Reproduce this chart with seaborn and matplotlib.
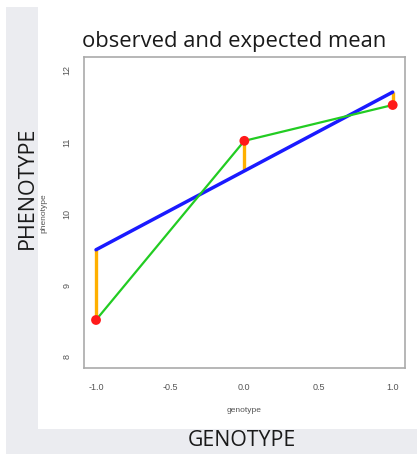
import matplotlib
matplotlib.use("Agg")
import matplotlib.pyplot as plt
import seaborn as sns
import pandas as pd
from matplotlib.patches import Rectangle

# Genotype coding and phenotype means
genotype = [-1.0, 0.0, 1.0]
observed = [8.5, 11.0, 11.5]
expected = [9.48, 10.58, 11.68]

x_ticks = [-1.0, -0.5, 0.0, 0.5, 1.0]
y_ticks = [8, 9, 10, 11, 12]

df = pd.DataFrame({"genotype": genotype, "observed": observed, "expected": expected})

sns.set_style("white")
plt.rcParams["font.family"] = ["Liberation Sans", "DejaVu Sans"]

fig = plt.figure(figsize=(4.17, 4.56), dpi=100)
fig.patch.set_facecolor("white")

# Slide-style backdrop: grey frame with a white panel
fig.patches.append(Rectangle((6 / 417, 1 / 456), 1 - 6 / 417, 447 / 456,
                             transform=fig.transFigure, facecolor="#ebecf0",
                             edgecolor="none", zorder=-10))
fig.patches.append(Rectangle((38 / 417, 26 / 456), 1 - 38 / 417, 422 / 456,
                             transform=fig.transFigure, facecolor="white",
                             edgecolor="none", zorder=-9))

ax = fig.add_axes([84 / 417, 87 / 456, 321 / 417, 311 / 456])
ax.set_facecolor("white")

# Deviations between observed and expected means
ax.vlines(df["genotype"], df["observed"], df["expected"], color="#ffb000",
          linewidth=2.4, zorder=2)
sns.lineplot(data=df, x="genotype", y="expected", color="#1a1aff", linewidth=2.5,
             ax=ax, zorder=3)
sns.lineplot(data=df, x="genotype", y="observed", color="#22cc22", linewidth=1.6,
             ax=ax, zorder=4)
sns.scatterplot(data=df, x="genotype", y="observed", color="#ff1a1a", s=50,
                edgecolor="none", ax=ax, zorder=5)

ax.set_xlim(-1.081, 1.083)
ax.set_ylim(7.83, 12.17)
ax.set_xticks(x_ticks)
ax.set_xticklabels([f"{v:.1f}" for v in x_ticks])
ax.set_yticks(y_ticks)
ax.set_yticklabels([str(v) for v in y_ticks], rotation=90, va="center")
ax.tick_params(axis="both", colors="#777777", labelcolor="#555555", labelsize=6.5,
               length=4, width=0.8, direction="out", pad=5)
ax.tick_params(axis="x", pad=6)
for s in ax.spines.values():
    s.set_color("#aaaaaa")
    s.set_linewidth(1.2)
ax.set_xlabel("genotype", fontsize=6, color="#555555", labelpad=11)
ax.set_ylabel("phenotype", fontsize=6, color="#555555", labelpad=11)

fig.text(234 / 417, 1 - 42 / 456, "observed and expected mean", ha="center",
         va="center", fontsize=15.8, color="#1a1a1a", family=["Open Sans", "DejaVu Sans"])
fig.text(27 / 417, 1 - 188 / 456, "PHENOTYPE", ha="center", va="center",
         rotation=90, fontsize=15.5, color="#1a1a1a", family=["Open Sans", "DejaVu Sans"])
fig.text(242 / 417, 1 - 441 / 456, "GENOTYPE", ha="center", va="center",
         fontsize=15.3, color="#1a1a1a", family=["Open Sans", "DejaVu Sans"])

fig.savefig("out.png", dpi=100)
